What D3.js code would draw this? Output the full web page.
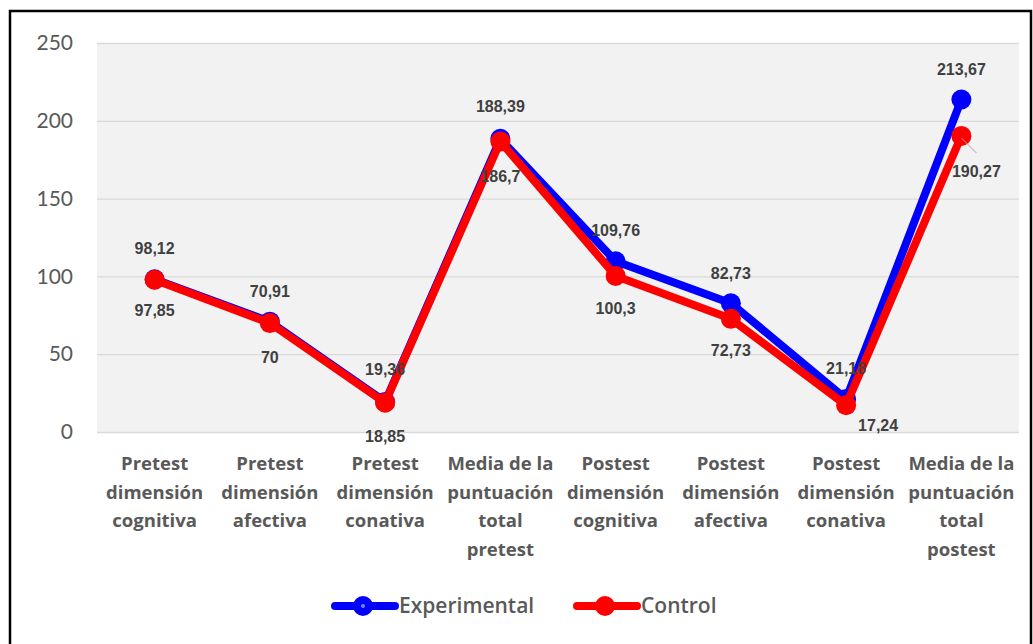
<!DOCTYPE html>
<html lang="es">
<head>
<meta charset="UTF-8">
<title>Experimental vs Control</title>
<style>
  body { margin: 0; background: #fff; }
  .tick text { fill: #595959; }
  .cat { font: bold 18.5px "Open Sans", "Noto Sans", sans-serif; fill: #595959; }
  .val { font: bold 16px "Liberation Sans Narrow", "Liberation Sans", sans-serif; fill: #404040; }
  .legend text { font: 600 21px "Open Sans", "Noto Sans", sans-serif; fill: #595959; }
</style>
<script src="https://d3js.org/d3.v7.min.js"></script>
</head>
<body>
<script>
const categories = [
  ["Pretest", "dimensión", "cognitiva"],
  ["Pretest", "dimensión", "afectiva"],
  ["Pretest", "dimensión", "conativa"],
  ["Media de la", "puntuación", "total", "pretest"],
  ["Postest", "dimensión", "cognitiva"],
  ["Postest", "dimensión", "afectiva"],
  ["Postest", "dimensión", "conativa"],
  ["Media de la", "puntuación", "total", "postest"]
];
const experimental = [98.12, 70.91, 19.36, 188.39, 109.76, 82.73, 21.18, 213.67];
const control = [97.85, 70, 18.85, 186.7, 100.3, 72.73, 17.24, 190.27];
const yTicks = [0, 50, 100, 150, 200, 250];

// label offsets (px) relative to each marker
const expOffsets = [[0,-31],[0,-30],[0,-32],[0,-32],[0,-31],[0,-30],[0,-31],[0,-30]];
const ctlOffsets = [[0,31],[0,34],[0,34],[0,35],[0,32],[0,32],[32,20],[15,35]];

const fmt = v => String(v).replace(".", ",");

const W = 1033, H = 644;
const plot = {left: 97, right: 1019, top: 43, bottom: 432};

const svg = d3.select("body").append("svg").attr("width", W).attr("height", H);

// outer frame
svg.append("rect").attr("x", 10).attr("y", 11).attr("width", 1021).attr("height", 660)
  .attr("fill", "#fff").attr("stroke", "#000").attr("stroke-width", 2.5);

const x = d3.scaleBand().domain(d3.range(categories.length)).range([plot.left, plot.right]);
const y = d3.scaleLinear().domain([0, 250]).range([plot.bottom, plot.top]);
const cx = i => x(i) + x.bandwidth() / 2;

svg.append("rect").attr("x", plot.left).attr("y", plot.top)
  .attr("width", plot.right - plot.left).attr("height", plot.bottom - plot.top)
  .attr("fill", "#f2f2f2");

const yAxis = svg.append("g").attr("transform", `translate(${plot.left},0)`)
  .call(d3.axisLeft(y).tickValues(yTicks).tickSize(-(plot.right - plot.left)).tickPadding(24));
yAxis.select(".domain").remove();
yAxis.selectAll(".tick line").attr("stroke", "#d9d9d9").attr("stroke-width", 1.3);
yAxis.selectAll(".tick text").style("font", "21px Lato, 'Open Sans', sans-serif");

// category labels
const cat = svg.append("g");
categories.forEach((lines, i) => {
  const t = cat.append("text").attr("class", "cat").attr("text-anchor", "middle")
    .attr("x", cx(i)).attr("y", 470);
  lines.forEach((l, j) => t.append("tspan").attr("x", cx(i)).attr("dy", j ? 28.7 : 0).text(l));
});

const line = d3.line().x((d, i) => cx(i)).y(d => y(d));

const series = [
  {name: "Experimental", values: experimental, color: "#0000ff", offsets: expOffsets},
  {name: "Control", values: control, color: "#ff0000", offsets: ctlOffsets}
];

series.forEach(s => {
  svg.append("path").datum(s.values).attr("d", line).attr("fill", "none")
    .attr("stroke", s.color).attr("stroke-width", 8).attr("stroke-linejoin", "round");
  svg.append("g").selectAll("circle").data(s.values).join("circle")
    .attr("cx", (d, i) => cx(i)).attr("cy", d => y(d)).attr("r", 10).attr("fill", s.color);
});

// leader line for 190,27
svg.append("line").attr("x1", cx(7)).attr("y1", y(control[7]) + 2)
  .attr("x2", cx(7) + 15).attr("y2", y(control[7]) + 17)
  .attr("stroke", "#a6a6a6").attr("stroke-width", 1);

series.forEach(s => {
  svg.append("g").selectAll("text").data(s.values).join("text")
    .attr("class", "val").attr("text-anchor", "middle")
    .attr("x", (d, i) => cx(i) + s.offsets[i][0])
    .attr("y", (d, i) => y(d) + s.offsets[i][1])
    .attr("dy", "0.35em")
    .text(d => fmt(d));
});

// legend
const legend = svg.append("g").attr("class", "legend");
[[335, 0], [577, 1]].forEach(([lx, k]) => {
  const s = series[k];
  const g = legend.append("g").attr("transform", `translate(${lx},606)`);
  g.append("line").attr("x1", 0).attr("x2", 60).attr("stroke", s.color)
    .attr("stroke-width", 8).attr("stroke-linecap", "round");
  g.append("circle").attr("cx", 28).attr("r", 10).attr("fill", s.color);
  if (k === 0) g.append("circle").attr("cx", 28).attr("r", 2).attr("fill", "#6a8cff");
  g.append("text").attr("x", 64).attr("dy", "0.35em").text(s.name);
});
</script>
</body>
</html>
